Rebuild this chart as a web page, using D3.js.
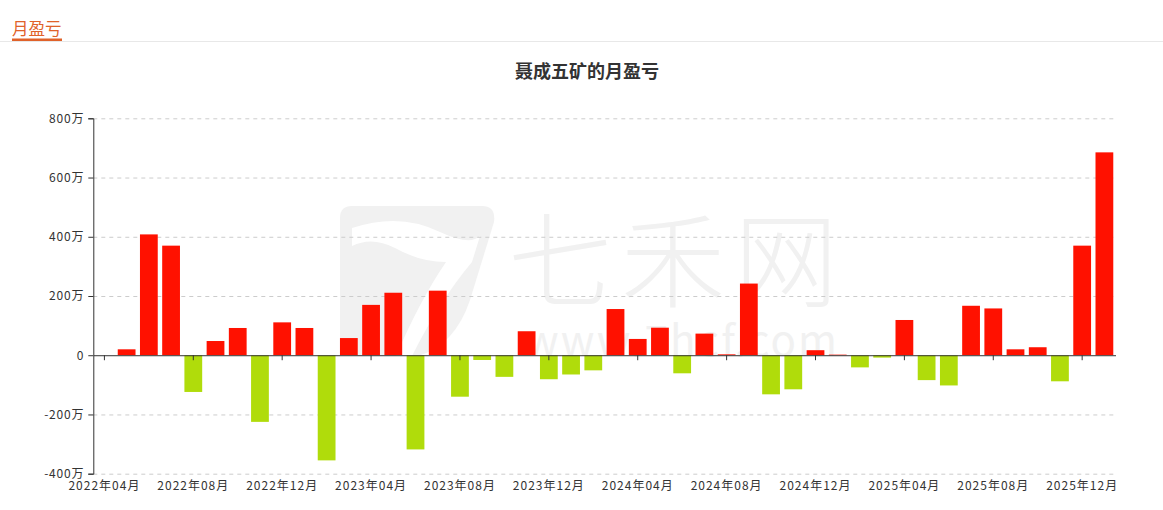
<!DOCTYPE html>
<html>
<head>
<meta charset="utf-8">
<script src="https://cdn.jsdelivr.net/npm/d3@7"></script>
<style>
  html, body { margin: 0; padding: 0; background: #fff; }
  svg { display: block; font-family: "Noto Sans CJK SC", "Noto Sans", sans-serif; }
</style>
</head>
<body>
<svg id="chart" width="1163" height="510"></svg>
<script>
// ---- data (万元) ----
const months = [
  "2022年04月","2022年05月","2022年06月","2022年07月","2022年08月","2022年09月","2022年10月","2022年11月","2022年12月",
  "2023年01月","2023年02月","2023年03月","2023年04月","2023年05月","2023年06月","2023年07月","2023年08月","2023年09月","2023年10月","2023年11月","2023年12月",
  "2024年01月","2024年02月","2024年03月","2024年04月","2024年05月","2024年06月","2024年07月","2024年08月","2024年09月","2024年10月","2024年11月","2024年12月",
  "2025年01月","2025年02月","2025年03月","2025年04月","2025年05月","2025年06月","2025年07月","2025年08月","2025年09月","2025年10月","2025年11月","2025年12月",
  "2026年01月"
];
const profit = [
  0, 20, 408, 370, -124, 48, 92, -225, 111,
  92, -355, 58, 170, 211, -318, 218, -140, -16, -73, 81, -81,
  -65, -51, 156, 55, 93, -61, 73, 3, 242, -132, -115, 17,
  2, -41, -8, 119, -84, -102, 167, 158, 20, 27, -88, 370,
  685
];
const yTicks = [-400, -200, 0, 200, 400, 600, 800];
const xLabelMonths = months.filter((m, i) => i % 4 === 0);
const titleText = "聂成五矿的月盈亏";
const headerText = "月盈亏";

// ---- layout ----
const svg = d3.select("#chart");
const L = 93.3, R = 1115.5, T = 118.3, B = 473.7;
const posColor = "#ff1100", negColor = "#b0dc0b";

// header
svg.append("line").attr("x1", 0).attr("x2", 1163).attr("y1", 41.5).attr("y2", 41.5)
  .attr("stroke", "#e8e8e8").attr("stroke-width", 1);
svg.append("text").attr("x", 12).attr("y", 35).attr("font-size", 16.5)
  .attr("fill", "#e0622a").text(headerText);
svg.append("rect").attr("x", 12).attr("y", 38.5).attr("width", 50).attr("height", 2.5).attr("fill", "#e0622a");

// title
svg.append("text").attr("x", 587).attr("y", 78).attr("text-anchor", "middle")
  .attr("font-size", 18).attr("font-weight", "bold").attr("fill", "#333").text(titleText);

// watermark
const wm = svg.append("g").attr("fill", "#f1f1f1");
wm.append("path").attr("d",
  "M352,206 L482,206 Q496,206 494,222 L470,300 Q455,345 418,356 L352,356 Q340,356 340,344 L340,218 Q340,206 352,206 Z");
wm.append("path").attr("fill", "#fff").attr("d",
  "M352,228 Q400,212 440,232 Q470,246 480,236 L472,262 Q440,300 412,356 L396,356 Q420,300 446,262 Q420,262 395,248 Q372,236 352,246 Z");
const wmText = wm.append("text");
wmText.append("tspan").attr("x", 508).attr("y", 300).attr("font-size", 104)
  .attr("font-weight", 300).attr("textLength", 330).text("七禾网");
wmText.append("tspan").attr("x", 525).attr("y", 356).attr("font-size", 42)
  .attr("textLength", 312).text("www.7hcf.com");

// scales
const x = d3.scaleBand().domain(months).range([L, R]).paddingInner(0.2).paddingOuter(0.1);
const y = d3.scaleLinear().domain([-400, 800]).range([B, T]);

// gridlines
svg.append("g").selectAll("line").data(yTicks.filter(v => v !== 0)).join("line")
  .attr("x1", L).attr("x2", R).attr("y1", d => y(d) + 0.5).attr("y2", d => y(d) + 0.5)
  .attr("stroke", "#cccccc").attr("stroke-dasharray", "4,4").attr("stroke-width", 1);

// bars
svg.append("g").selectAll("rect").data(months.map((m, i) => ({ m, v: profit[i] }))).join("rect")
  .attr("x", d => x(d.m))
  .attr("width", x.bandwidth())
  .attr("y", d => y(Math.max(0, d.v)))
  .attr("height", d => Math.abs(y(d.v) - y(0)))
  .attr("fill", d => d.v >= 0 ? posColor : negColor);

// y axis
const yAxis = svg.append("g").attr("transform", `translate(${L},0)`)
  .call(d3.axisLeft(y).tickValues(yTicks).tickSize(5).tickPadding(4)
    .tickFormat(d => d === 0 ? "0" : d + "万"));
yAxis.selectAll("text").attr("font-size", 12).attr("fill", "#333")
  .attr("font-family", "\"Noto Sans CJK SC\", sans-serif").attr("letter-spacing", 0.8);
yAxis.selectAll("line, path").attr("stroke", "#333");

// x axis line at zero with ticks
const xAxis = svg.append("g").attr("transform", `translate(0,${y(0)})`)
  .call(d3.axisBottom(x).tickValues(xLabelMonths).tickSize(5).tickSizeOuter(0).tickFormat(""));
xAxis.selectAll("line, path").attr("stroke", "#333");

// x labels at bottom
const xLab = svg.append("g").attr("transform", `translate(0,${B})`)
  .call(d3.axisBottom(x).tickValues(xLabelMonths).tickSize(0).tickPadding(8));
xLab.select(".domain").remove();
xLab.selectAll("text").attr("font-size", 12).attr("fill", "#333")
  .attr("font-family", "\"Noto Sans CJK SC\", sans-serif").attr("letter-spacing", 1);
</script>
</body>
</html>
